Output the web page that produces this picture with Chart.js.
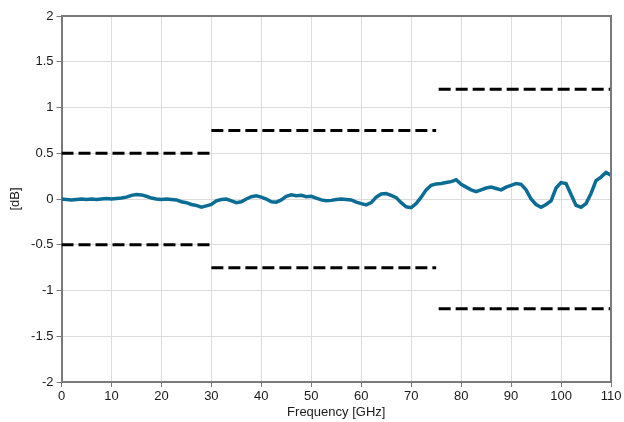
<!DOCTYPE html>
<html>
<head>
<meta charset="utf-8">
<script src="https://cdn.jsdelivr.net/npm/chart.js@4"></script>
<style>
  html, body { margin: 0; padding: 0; background: #fff; }
  #wrap { width: 624px; height: 422px; }
</style>
</head>
<body>
<div id="wrap"><canvas id="myChart" width="624" height="422"></canvas></div>
<script>
// ===== data =====
const freqGHz = [
  0, 1, 2, 3, 4, 5, 6, 7, 8, 9,
  10, 11, 12, 13, 14, 15, 16, 17, 18, 19,
  20, 21, 22, 23, 24, 25, 26, 27, 28, 29,
  30, 31, 32, 33, 34, 35, 36, 37, 38, 39,
  40, 41, 42, 43, 44, 45, 46, 47, 48, 49,
  50, 51, 52, 53, 54, 55, 56, 57, 58, 59,
  60, 61, 62, 63, 64, 65, 66, 67, 68, 69,
  70, 71, 72, 73, 74, 75, 76, 77, 78, 79,
  80, 81, 82, 83, 84, 85, 86, 87, 88, 89,
  90, 91, 92, 93, 94, 95, 96, 97, 98, 99,
  100, 101, 102, 103, 104, 105, 106, 107, 108, 109,
  110
];
const responseDb = [
  0.00, -0.005, -0.01, -0.005, 0.00, -0.005, 0.00, -0.005, 0.00, 0.005,
  0.00, 0.005, 0.01, 0.02, 0.04, 0.05, 0.045, 0.03, 0.01, 0.00,
  -0.005, 0.00, -0.005, -0.01, -0.03, -0.04, -0.06, -0.07, -0.09, -0.075,
  -0.06, -0.02, -0.005, 0.00, -0.02, -0.04, -0.03, 0.00, 0.025, 0.035,
  0.02, 0.00, -0.03, -0.035, -0.01, 0.03, 0.045, 0.035, 0.04, 0.025,
  0.03, 0.01, -0.01, -0.02, -0.015, -0.005, 0.00, -0.005, -0.01, -0.035,
  -0.05, -0.065, -0.04, 0.02, 0.055, 0.06, 0.04, 0.015, -0.04, -0.085,
  -0.095, -0.05, 0.02, 0.10, 0.15, 0.165, 0.17, 0.18, 0.19, 0.21,
  0.16, 0.13, 0.10, 0.08, 0.10, 0.12, 0.13, 0.115, 0.10, 0.13,
  0.15, 0.17, 0.16, 0.10, 0.00, -0.06, -0.09, -0.06, -0.02, 0.12,
  0.18, 0.17, 0.05, -0.07, -0.09, -0.05, 0.06, 0.20, 0.24, 0.29,
  0.26
];

// limit lines: [start GHz, end GHz, level dB]
const limitBands = [
  [0, 30, 0.5],
  [30, 75, 0.75],
  [75.5, 110, 1.2]
];

const xTicks = [0, 10, 20, 30, 40, 50, 60, 70, 80, 90, 100, 110];
const yTicks = [-2, -1.5, -1, -0.5, 0, 0.5, 1, 1.5, 2];

// ===== datasets =====
const datasets = [];

for (const [f0, f1, lvl] of limitBands) {
  for (const sign of [1, -1]) {
    datasets.push({
      data: [{ x: f0, y: sign * lvl }, { x: f1, y: sign * lvl }],
      borderColor: '#000',
      borderWidth: 3,
      borderDash: [12, 5],
      pointRadius: 0,
      fill: false,
    });
  }
}

datasets.push({
  data: freqGHz.map((f, i) => ({ x: f, y: responseDb[i] })),
  borderColor: '#0b6d94',
  borderWidth: 3.5,
  pointRadius: 0,
  tension: 0,
  fill: false,
});

// 枠線（上・右）
const frameBox = {
  id: 'frameBox',
  afterDatasetsDraw(chart) {
    const { ctx, chartArea: a } = chart;
    ctx.save();
    ctx.strokeStyle = '#7a7a7a';
    ctx.lineWidth = 2;
    ctx.beginPath();
    ctx.moveTo(a.left, a.top);
    ctx.lineTo(a.right, a.top);
    ctx.lineTo(a.right, a.bottom);
    ctx.stroke();
    ctx.restore();
  }
};

Chart.defaults.font.family = '"Liberation Sans", Arial, sans-serif';
Chart.defaults.font.size = 13;
Chart.defaults.color = '#1a1a1a';

new Chart(document.getElementById('myChart'), {
  type: 'line',
  data: { datasets },
  options: {
    responsive: false,
    animation: false,
    layout: { padding: { top: 16, right: 13, left: 0, bottom: 0 } },
    plugins: { legend: { display: false }, tooltip: { enabled: false } },
    scales: {
      x: {
        type: 'linear',
        min: 0, max: 110,
        afterBuildTicks: s => { s.ticks = xTicks.map(v => ({ value: v })); },
        afterFit: s => { s.height = 40; },
        ticks: { padding: 2, maxRotation: 0, callback: v => String(v) },
        grid: { color: '#dcdcdc', tickColor: '#7a7a7a', tickLength: 5 },
        border: { color: '#7a7a7a', width: 2 },
        title: { display: true, text: 'Frequency [GHz]', padding: { top: 0, bottom: 2 } },
      },
      y: {
        min: -2, max: 2,
        afterBuildTicks: s => { s.ticks = yTicks.map(v => ({ value: v })); },
        afterFit: s => { s.width = 61.5; },
        ticks: { padding: 3, callback: v => String(v) },
        grid: { color: '#dcdcdc', tickColor: '#7a7a7a', tickLength: 5 },
        border: { color: '#7a7a7a', width: 2 },
        title: { display: true, text: '[dB]', padding: { top: 8, bottom: 0 } },
      },
    },
  },
  plugins: [frameBox],
});
</script>
</body>
</html>
